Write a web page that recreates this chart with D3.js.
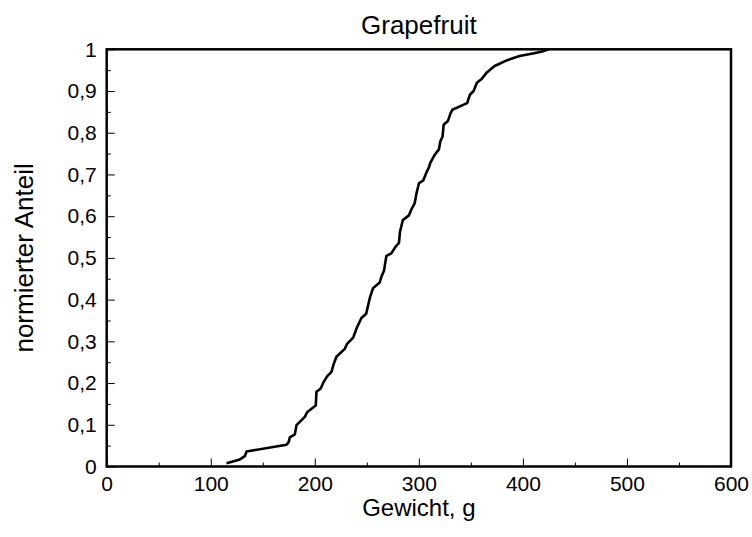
<!DOCTYPE html>
<html>
<head>
<meta charset="utf-8">
<script src="https://cdn.jsdelivr.net/npm/d3@7"></script>
<style>
  body { margin: 0; background: #fff; }
  svg { display: block; }
  text { font-family: "Liberation Sans", Arial, sans-serif; fill: #000; }
</style>
</head>
<body>
<div id="chart"></div>
<script>
const title = "Grapefruit";
const xLabel = "Gewicht, g";
const yLabel = "normierter Anteil";
const xTicks = [0, 100, 200, 300, 400, 500, 600];
const yTicks = [0, 0.1, 0.2, 0.3, 0.4, 0.5, 0.6, 0.7, 0.8, 0.9, 1];
const weight = [115.2, 128.0, 132.8, 134.4, 172.8, 175.0, 176.0, 180.8, 182.4, 185.6,
  190.4, 192.6, 200.9, 201.6, 205.7, 208.6, 211.8, 216.0, 218.2, 220.8,
  228.8, 231.0, 236.9, 240.3, 244.8, 249.4, 251.3, 253.1, 255.9, 262.4,
  264.0, 266.5, 268.8, 273.6, 277.7, 280.9, 281.8, 284.7, 290.5, 292.6,
  296.0, 297.6, 300.1, 304.3, 307.2, 309.7, 311.0, 315.2, 319.3, 320.6,
  322.8, 323.8, 327.9, 330.5, 332.2, 346.4, 349.1, 352.6, 355.8, 360.0,
  364.8, 372.8, 384.0, 396.8, 409.5, 417.6, 424.9];
const share = [0.008, 0.017, 0.025, 0.036, 0.052, 0.059, 0.070, 0.077, 0.099, 0.107,
  0.119, 0.130, 0.146, 0.179, 0.187, 0.203, 0.216, 0.227, 0.246, 0.263,
  0.282, 0.294, 0.309, 0.332, 0.356, 0.366, 0.387, 0.406, 0.427, 0.441,
  0.455, 0.469, 0.505, 0.511, 0.527, 0.536, 0.562, 0.591, 0.602, 0.615,
  0.631, 0.653, 0.679, 0.686, 0.704, 0.717, 0.728, 0.747, 0.760, 0.779,
  0.791, 0.819, 0.828, 0.847, 0.855, 0.871, 0.891, 0.900, 0.920, 0.928,
  0.943, 0.960, 0.973, 0.984, 0.990, 0.994, 1.000];

const W = 752, H = 537;
const L = 106.7, R = 731, T = 49.3, B = 466.5;

const svg = d3.select("#chart").append("svg").attr("width", W).attr("height", H);

const x = d3.scaleLinear().domain([0, 600]).range([L, R]);
const y = d3.scaleLinear().domain([0, 1]).range([B, T]);

const fmt = d => String(+d.toFixed(2)).replace(".", ",");

const xMinor = d3.range(50, 600, 100);
const yMinor = d3.range(0.05, 1, 0.1);

const gx = svg.append("g").attr("transform", `translate(0,${B})`)
  .call(d3.axisBottom(x).tickValues(xMinor).tickSize(-4).tickFormat(""));
const gx2 = svg.append("g").attr("transform", `translate(0,${B})`)
  .call(d3.axisBottom(x).tickValues(xTicks).tickSize(-8).tickPadding(10).tickFormat(d3.format("d")));
const gy = svg.append("g").attr("transform", `translate(${L},0)`)
  .call(d3.axisLeft(y).tickValues(yMinor).tickSize(-4).tickFormat(""));
const gy2 = svg.append("g").attr("transform", `translate(${L},0)`)
  .call(d3.axisLeft(y).tickValues(yTicks).tickSize(-8).tickPadding(10).tickFormat(fmt));

[gx, gx2, gy, gy2].forEach(g => {
  g.select(".domain").remove();
  g.selectAll(".tick line").attr("stroke", "#000").attr("stroke-width", 1);
  g.selectAll(".tick text").attr("font-size", 21).attr("font-family", "Liberation Sans, Arial, sans-serif").attr("fill", "#000");
});

svg.append("rect").attr("x", L).attr("y", T).attr("width", R - L).attr("height", B - T)
  .attr("fill", "none").attr("stroke", "#000").attr("stroke-width", 2.5);

const pts = weight.map((w, i) => [w, share[i]]);
svg.append("path").datum(pts)
  .attr("d", d3.line().x(d => x(d[0])).y(d => y(d[1])))
  .attr("fill", "none").attr("stroke", "#000").attr("stroke-width", 2.6)
  .attr("stroke-linejoin", "round");

svg.append("text").attr("x", (L + R) / 2).attr("y", 34).attr("text-anchor", "middle")
  .attr("font-size", 26).text(title);
svg.append("text").attr("x", (L + R) / 2).attr("y", 516).attr("text-anchor", "middle")
  .attr("font-size", 24).text(xLabel);
svg.append("text").attr("transform", `translate(33,${(T + B) / 2}) rotate(-90)`)
  .attr("text-anchor", "middle").attr("font-size", 26).text(yLabel);
</script>
</body>
</html>
